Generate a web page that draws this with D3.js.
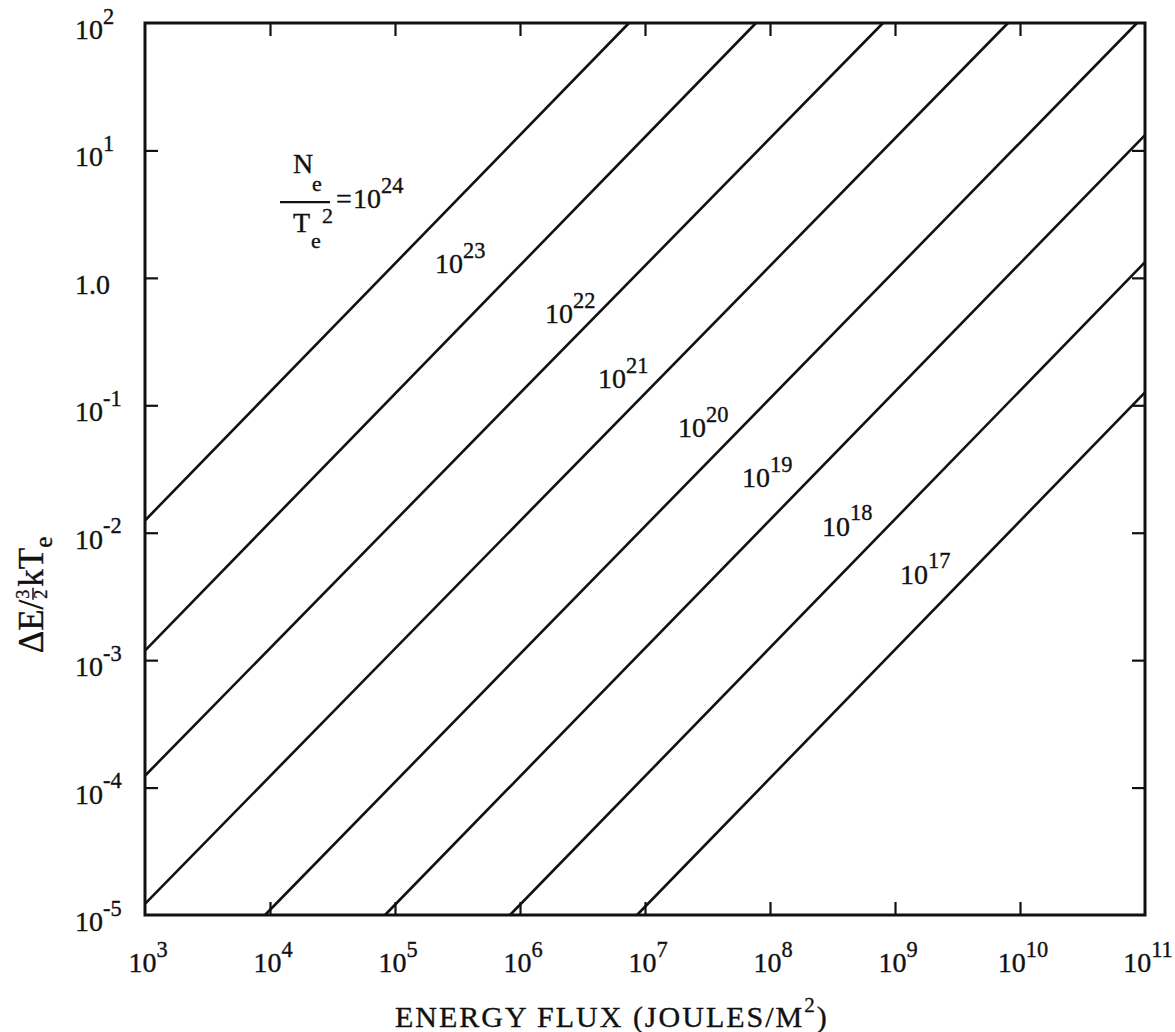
<!DOCTYPE html>
<html>
<head>
<meta charset="utf-8">
<script src="https://cdn.jsdelivr.net/npm/d3@7"></script>
<style>
body { margin: 0; background: #fff; }
text { font-family: "Liberation Serif", serif; fill: #111; stroke: #111; stroke-width: 0.35; }
</style>
</head>
<body>
<script>
// exponent of Ne/Te^2 for each line
var densityExp = [24, 23, 22, 21, 20, 19, 18, 17];

// end points of each line (energy flux J/m^2, dE/(3/2)kTe)
var startFlux  = [1e3, 1e3, 1e3, 1e3, Math.pow(10, 3.96), Math.pow(10, 4.92), Math.pow(10, 5.92), Math.pow(10, 6.936)];
var startRatio = [Math.pow(10, -1.904), Math.pow(10, -2.925), Math.pow(10, -3.907), Math.pow(10, -4.912), 1e-5, 1e-5, 1e-5, 1e-5];
var endFlux    = [Math.pow(10, 6.872), Math.pow(10, 7.888), Math.pow(10, 8.904), Math.pow(10, 9.904), Math.pow(10, 10.936), 1e11, 1e11, 1e11];
var endRatio   = [1e2, 1e2, 1e2, 1e2, 1e2, Math.pow(10, 1.12), Math.pow(10, 0.123), Math.pow(10, -0.899)];

// where each line's label sits (data coords)
var labelFlux  = [Math.pow(10, 4.664), Math.pow(10, 5.32), Math.pow(10, 6.2), Math.pow(10, 6.624), Math.pow(10, 7.264), Math.pow(10, 7.776), Math.pow(10, 8.416), Math.pow(10, 9.04)];
var labelRatio = [Math.pow(10, 0.547), Math.pow(10, 0.036), Math.pow(10, -0.357), Math.pow(10, -0.867), Math.pow(10, -1.252), Math.pow(10, -1.645), Math.pow(10, -2.022), Math.pow(10, -2.399)];

// tick labels
var xTickExp = [3, 4, 5, 6, 7, 8, 9, 10, 11];
var yTickExp = [2, 1, 0, -1, -2, -3, -4, -5];

var W = 1175, H = 1032;
var margin = { top: 23, right: 30, bottom: 117, left: 145 };
var width = W - margin.left - margin.right;
var height = H - margin.top - margin.bottom;

var svg = d3.select("body").append("svg").attr("width", W).attr("height", H);
var g = svg.append("g").attr("transform", "translate(" + margin.left + "," + margin.top + ")");

var x = d3.scaleLog().domain([1e3, 1e11]).range([0, width]);
var y = d3.scaleLog().domain([1e-5, 1e2]).range([height, 0]);

var xInner = xTickExp.slice(1, -1).map(function (e) { return Math.pow(10, e); });
var yInner = yTickExp.slice(1, -1).map(function (e) { return Math.pow(10, e); });

// ticks point inward on all four sides
g.append("g").attr("class", "axis").attr("transform", "translate(0," + height + ")")
    .call(d3.axisBottom(x).tickValues(xInner).tickSize(-13).tickFormat(""));
g.append("g").attr("class", "axis")
    .call(d3.axisTop(x).tickValues(xInner).tickSize(-13).tickFormat(""));
g.append("g").attr("class", "axis")
    .call(d3.axisLeft(y).tickValues(yInner).tickSize(-13).tickFormat(""));
g.append("g").attr("class", "axis").attr("transform", "translate(" + width + ",0)")
    .call(d3.axisRight(y).tickValues(yInner).tickSize(-13).tickFormat(""));
g.selectAll(".axis .domain").remove();
g.selectAll(".axis line").attr("stroke", "#111").attr("stroke-width", 2.2);

// the lines
g.selectAll("line.curve")
    .data(densityExp)
    .enter()
    .append("line")
    .attr("class", "curve")
    .attr("x1", function (d, i) { return x(startFlux[i]); })
    .attr("y1", function (d, i) { return y(startRatio[i]); })
    .attr("x2", function (d, i) { return x(endFlux[i]); })
    .attr("y2", function (d, i) { return y(endRatio[i]); })
    .attr("stroke", "#111")
    .attr("stroke-width", 2.6);

// frame
g.append("rect").attr("width", width).attr("height", height)
    .attr("fill", "none").attr("stroke", "#111").attr("stroke-width", 3);

// "10" with a raised exponent
function pow10(text, exp, size) {
    text.append("tspan").text("10");
    text.append("tspan").attr("font-size", size * 0.8).attr("dy", -size * 0.55).text(exp);
}

var tickSize = 28;
xTickExp.forEach(function (e) {
    var t = g.append("text")
        .attr("x", x(Math.pow(10, e)) + 3)
        .attr("y", height + 57)
        .attr("text-anchor", "middle")
        .attr("font-size", tickSize);
    pow10(t, e, tickSize);
});

yTickExp.forEach(function (e) {
    var t = g.append("text")
        .attr("x", -70)
        .attr("y", y(Math.pow(10, e)) + 16)
        .attr("font-size", tickSize);
    if (e === 0) t.text("1.0");
    else pow10(t, e, tickSize);
});

// labels on the lines
var labSize = 28;
densityExp.forEach(function (e, i) {
    var px = x(labelFlux[i]), py = y(labelRatio[i]);
    var t = g.append("text").attr("x", px).attr("y", py).attr("font-size", labSize);
    pow10(t, e, labSize);
    if (i === 0) {
        // Ne / Te^2 = in front of the first one
        var f = g.append("g").attr("transform", "translate(" + px + "," + py + ")");
        f.append("text").attr("x", -60).attr("y", -35).attr("font-size", labSize).text("N");
        f.append("text").attr("x", -41).attr("y", -17).attr("font-size", 22).text("e");
        f.append("line").attr("x1", -73).attr("x2", -23).attr("y1", -6).attr("y2", -6)
            .attr("stroke", "#111").attr("stroke-width", 2.4);
        f.append("text").attr("x", -60).attr("y", 24).attr("font-size", labSize).text("T");
        f.append("text").attr("x", -42).attr("y", 40).attr("font-size", 22).text("e");
        f.append("text").attr("x", -31).attr("y", 15).attr("font-size", 22).text("2");
        f.append("text").attr("x", -17).attr("y", 0).attr("font-size", labSize).text("=");
    }
});

// x axis title
var xt = svg.append("text").attr("x", 395).attr("y", 1027).attr("font-size", 30).attr("letter-spacing", 2);
xt.append("tspan").text("ENERGY FLUX (JOULES/M");
xt.append("tspan").attr("font-size", 21).attr("dy", -15).text("2");
xt.append("tspan").attr("dy", 15).text(")");

// y axis title, rotated, laid out piece by piece
var yt = svg.append("g");
var parts = [
    { s: "\u0394E/", size: 35, dy: 0 },
    { frac: true },
    { s: "kT", size: 35, dy: 0 },
    { s: "e", size: 25, dy: 9 }
];
var cursor = 0;
parts.forEach(function (p) {
    if (p.frac) {
        var a = yt.append("text").attr("x", cursor + 1).attr("y", -14).attr("font-size", 18).text("3");
        yt.append("line").attr("x1", cursor).attr("x2", cursor + 12).attr("y1", -10).attr("y2", -10)
            .attr("stroke", "#111").attr("stroke-width", 1.5);
        yt.append("text").attr("x", cursor + 1).attr("y", 4).attr("font-size", 18).text("2");
        cursor += a.node().getComputedTextLength() + 4;
    } else {
        var t = yt.append("text").attr("x", cursor).attr("y", p.dy).attr("font-size", p.size).text(p.s);
        cursor += t.node().getComputedTextLength();
    }
});
yt.attr("transform", "translate(43," + (595 + cursor / 2) + ") rotate(-90)");
</script>
</body>
</html>
